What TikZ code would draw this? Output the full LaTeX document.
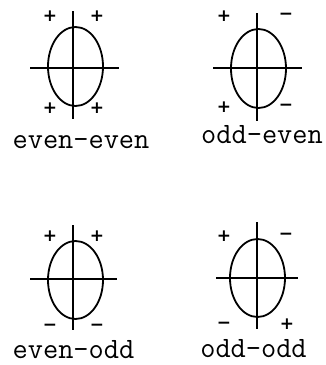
\documentclass[tikz,border=0pt]{standalone}
\usepackage{fontspec}
\newfontfamily\signfont{DejaVu Sans}
\begin{document}
\begin{tikzpicture}[x=1pt,y=-1pt,
  axis/.style={line width=2pt},
  orb/.style={line width=1.8pt},
  sign/.style={font=\signfont\bfseries\fontsize{17}{17}\selectfont, inner sep=0pt},
  lab/.style={font=\ttfamily\fontsize{29.5}{31}\selectfont, inner sep=0pt, anchor=base}]
\useasboundingbox (0,0) rectangle (326,365);
% even-even
\draw[axis] (73,11) -- (73,119);
\draw[axis] (30,68) -- (119,68);
\draw[orb] (75.5,66.5) ellipse [x radius=27.5, y radius=39.5];
\node[sign] (ee1) at (50,16) {+};
\node[sign] (ee2) at (97,16) {+};
\node[sign] (ee3) at (50,108) {+};
\node[sign] (ee4) at (97,108) {+};
\node[lab] (lee) at (81,148) {even-even};
% odd-even
\draw[axis] (257,13) -- (257,121);
\draw[axis] (213,68) -- (302,68);
\draw[orb] (258.5,68.5) ellipse [x radius=27.5, y radius=39.5];
\node[sign] (oe1) at (224,16) {+};
\node[sign] (oe2) at (286,16) {−};
\node[sign] (oe3) at (224,107) {+};
\node[sign] (oe4) at (286,107) {−};
\node[lab] (loe) at (262,143) {odd-even};
% even-odd
\draw[axis] (73,225) -- (73,330);
\draw[axis] (30,279) -- (117,279);
\draw[orb] (75.5,280) ellipse [x radius=27.5, y radius=39];
\node[sign] (eo1) at (50,236) {+};
\node[sign] (eo2) at (97,236) {+};
\node[sign] (eo3) at (50,327) {−};
\node[sign] (eo4) at (97,327) {−};
\node[lab] (leo) at (73.5,358) {even-odd};
% odd-odd
\draw[axis] (257,222) -- (257,329);
\draw[axis] (216,278) -- (298,278);
\draw[orb] (257.5,278) ellipse [x radius=27.5, y radius=39];
\node[sign] (oo1) at (224,236) {+};
\node[sign] (oo2) at (286,236) {−};
\node[sign] (oo3) at (224,325) {−};
\node[sign] (oo4) at (287,324) {+};
\node[lab] (loo) at (253.5,357) {odd-odd};
\end{tikzpicture}
\end{document}
